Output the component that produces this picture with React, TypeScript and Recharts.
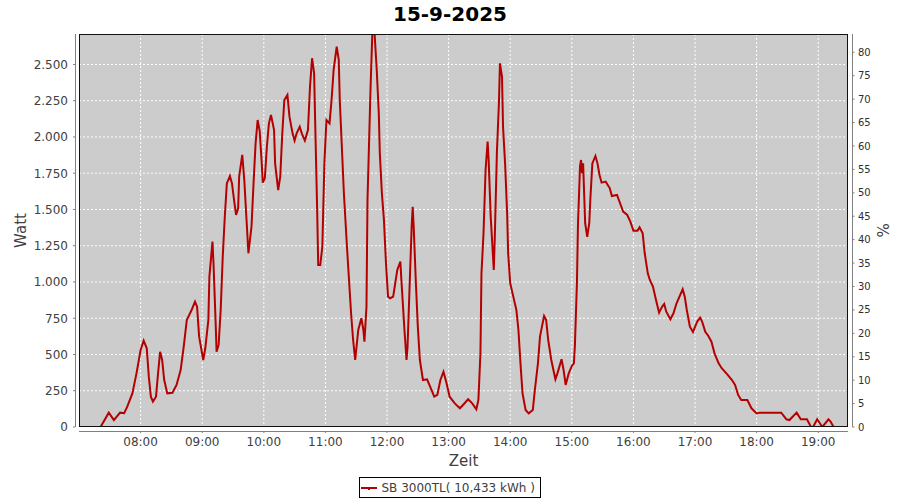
import React from "react";
import { LineChart, Line, XAxis, YAxis, CartesianGrid } from "recharts";

const title = "15-9-2025";
const seriesName = "SB 3000TL( 10,433 kWh )";

// sample times in minutes since midnight, power in watt
const minutes = [
  434, 441, 449, 454, 460, 464, 467, 472, 476, 480, 483, 486, 488, 490, 492, 495, 497, 499, 501, 503,
  506, 511, 515, 519, 522, 525, 530, 533, 535, 537, 541, 543, 546, 547, 550, 551, 553, 554, 556, 558,
  560, 562, 564, 567, 569, 571, 573, 575, 576, 579, 581, 583, 585, 588, 590, 592, 594, 596, 598, 599,
  601, 603, 605, 607, 610, 611, 614, 616, 618, 620, 623, 625, 628, 630, 632, 635, 637, 640, 643, 645,
  647, 649, 650, 652, 653, 655, 657, 659, 661, 664, 666, 668, 671, 673, 674, 676, 678, 681, 683, 685,
  687, 689, 692, 695, 697, 698, 700, 701, 704, 706, 708, 710, 712, 713, 715, 717, 719, 721, 723, 726,
  728, 730, 733, 734, 737, 739, 740, 742, 744, 745, 746, 748, 750, 752, 755, 759, 762, 766, 769, 772,
  775, 778, 781, 786, 791, 794, 799, 803, 807, 809, 811, 812, 814, 816, 818, 819, 821, 824, 825, 827,
  829, 830, 832, 833, 835, 837, 838, 840, 843, 846, 848, 850, 852, 855, 858, 862, 864, 867, 869, 873,
  875, 877, 880, 884, 886, 890, 892, 894, 897, 900, 902, 903, 905, 906, 908, 909, 910, 911, 912, 913,
  915, 917, 918, 920, 923, 925, 927, 929, 933, 937, 939, 944, 947, 950, 954, 957, 960, 964, 966, 969,
  971, 974, 976, 979, 982, 985, 988, 990, 992, 996, 999, 1002, 1008, 1010, 1012, 1015, 1018, 1022, 1025, 1027,
  1030, 1033, 1036, 1039, 1043, 1046, 1051, 1056, 1059, 1062, 1065, 1071, 1075, 1080, 1083, 1104, 1109, 1112, 1119, 1123,
  1129, 1133, 1135, 1139, 1144, 1150, 1152, 1155,
];

const watts = [
  0, 0, 99, 48, 99, 95, 140, 232, 370, 531, 595, 543, 347, 209, 175, 209, 370, 519, 462, 324,
  232, 236, 290, 393, 554, 738, 812, 864, 830, 623, 462, 543, 738, 1037, 1278, 1129, 738, 519, 566, 807,
  1174, 1450, 1680, 1731, 1680, 1566, 1462, 1508, 1726, 1876, 1703, 1450, 1198, 1381, 1680, 1956, 2117, 2040, 1818, 1685,
  1715, 1933, 2094, 2152, 2048, 1818, 1634, 1726, 2025, 2255, 2290, 2140, 2025, 1975, 2025, 2071, 2025, 1975, 2048, 2347,
  2543, 2439, 2117, 1485, 1117, 1117, 1243, 1818, 2117, 2094, 2255, 2462, 2623, 2531, 2255, 1933, 1612, 1243, 1014, 784,
  600, 462, 669, 750, 669, 588, 830, 1566, 2347, 2780, 2700, 2462, 2163, 1887, 1612, 1428, 1129, 899, 888, 899,
  991, 1083, 1140, 1014, 669, 462, 554, 968, 1381, 1519, 1381, 1014, 692, 462, 324, 329, 278, 209, 221, 324,
  381, 301, 209, 163, 129, 152, 191, 163, 122, 186, 508, 1060, 1336, 1772, 1968, 1841, 1450, 1083, 1312, 1887,
  2232, 2508, 2416, 2071, 1818, 1474, 1198, 991, 899, 807, 669, 439, 232, 117, 94, 117, 255, 439, 623, 766,
  738, 600, 462, 329, 370, 467, 393, 290, 370, 421, 439, 560, 1000, 1400, 1800, 1841, 1750, 1818, 1612, 1405,
  1312, 1405, 1566, 1818, 1869, 1818, 1738, 1685, 1692, 1646, 1593, 1600, 1543, 1485, 1462, 1416, 1354, 1354, 1377, 1336,
  1198, 1060, 1014, 968, 876, 788, 830, 848, 795, 743, 784, 853, 950, 899, 807, 692, 655, 725, 754, 725,
  657, 628, 588, 508, 439, 405, 366, 324, 290, 221, 186, 186, 129, 94, 99, 99, 53, 48, 99, 53,
  53, 0, 0, 53, 0, 53, 38, 0,
];

const hourTicks = [480, 540, 600, 660, 720, 780, 840, 900, 960, 1020, 1080, 1140];
const wattTicks = [0, 250, 500, 750, 1000, 1250, 1500, 1750, 2000, 2250, 2500];
const percentTicks = [0, 5, 10, 15, 20, 25, 30, 35, 40, 45, 50, 55, 60, 65, 70, 75, 80];

const data = minutes.map((t, i) => ({ t, w: watts[i] }));

const FONT = "'DejaVu Sans', sans-serif";
const RED = "#b40000";
const AXIS = "#808080";
const LABEL = "#404040";
const plot = { left: 79, top: 34, right: 848, bottom: 427 };

const pad2 = (n: number) => String(n).padStart(2, "0");
const fmtHour = (m: number) => `${pad2(Math.floor(m / 60))}:${pad2(m % 60)}`;
const fmtWatt = (v: number) =>
  v >= 1000 ? `${Math.floor(v / 1000)}.${String(v % 1000).padStart(3, "0")}` : String(v);

const LeftTick = ({ x, y, payload }: any) => (
  <g>
    <line x1={x - 6} x2={x - 4} y1={y} y2={y} stroke={AXIS} />
    <text x={x - 11} y={y + 4.4} textAnchor="end" fontSize={12} fill={LABEL} fontFamily={FONT}>
      {fmtWatt(payload.value)}
    </text>
  </g>
);

const RightTick = ({ x, y, payload }: any) => (
  <g>
    <line x1={x + 4.5} x2={x + 6.5} y1={y} y2={y} stroke={AXIS} />
    <text x={x + 10} y={y + 3.6} textAnchor="start" fontSize={10} fill="#303030" fontFamily={FONT}>
      {payload.value}
    </text>
  </g>
);

const BottomTick = ({ x, y, payload }: any) => (
  <g>
    <line x1={x} x2={x} y1={y + 4} y2={y + 6} stroke={AXIS} />
    <text x={x} y={y + 19} textAnchor="middle" fontSize={12} fill={LABEL} fontFamily={FONT}>
      {fmtHour(payload.value)}
    </text>
  </g>
);

export default function App() {
  const midY = (plot.top + plot.bottom) / 2;
  const midX = (plot.left + plot.right) / 2;
  return (
    <div style={{ position: "relative", width: 900, height: 500, background: "#fff" }}>
      <style>{"body{margin:0}"}</style>
      <LineChart width={900} height={500} data={data} margin={{ top: plot.top, right: 0, bottom: 0, left: 0 }}>
        <CartesianGrid
          xAxisId="x"
          yAxisId="w"
          stroke="#ffffff"
          strokeDasharray="2 2"
          fill="#cccccc"
          fillOpacity={1}
        />
        <XAxis
          xAxisId="x"
          dataKey="t"
          type="number"
          domain={[420, 1169]}
          ticks={hourTicks}
          height={500 - plot.bottom}
          axisLine={false}
          tickLine={false}
          tickSize={0}
          tickMargin={0}
          tick={BottomTick}
          allowDataOverflow
        />
        <YAxis
          yAxisId="w"
          orientation="left"
          domain={[0, 2710]}
          ticks={wattTicks}
          width={plot.left}
          axisLine={false}
          tickLine={false}
          tickSize={0}
          tickMargin={0}
          tick={LeftTick}
          allowDataOverflow
        />
        <YAxis
          yAxisId="p"
          orientation="right"
          domain={[0, 83.9]}
          ticks={percentTicks}
          width={900 - plot.right}
          axisLine={false}
          tickLine={false}
          tickSize={0}
          tickMargin={0}
          tick={RightTick}
          allowDataOverflow
        />
        <Line
          xAxisId="x"
          yAxisId="w"
          dataKey="w"
          name={seriesName}
          type="linear"
          stroke={RED}
          strokeWidth={2}
          dot={false}
          isAnimationActive={false}
        />
      </LineChart>
      <svg
        width={900}
        height={500}
        style={{ position: "absolute", left: 0, top: 0, pointerEvents: "none" }}
      >
        <text x={450} y={20.5} textAnchor="middle" fontSize={20} fontWeight="bold" fill="#000" fontFamily={FONT}>
          {title}
        </text>
        <rect
          x={plot.left + 0.5}
          y={plot.top + 0.5}
          width={plot.right - plot.left - 1}
          height={plot.bottom - plot.top - 1}
          fill="none"
          stroke="#111"
        />
        <line x1={75.5} x2={75.5} y1={plot.top} y2={plot.bottom} stroke={AXIS} />
        <line x1={852.5} x2={852.5} y1={plot.top} y2={plot.bottom} stroke={AXIS} />
        <line x1={plot.left} x2={plot.right} y1={431.5} y2={431.5} stroke={AXIS} />
        <text
          x={26}
          y={midY}
          transform={`rotate(-90, 26, ${midY})`}
          textAnchor="middle"
          fontSize={15}
          fill={LABEL}
          fontFamily={FONT}
        >
          Watt
        </text>
        <text
          x={877}
          y={midY}
          transform={`rotate(90, 877, ${midY})`}
          textAnchor="middle"
          fontSize={15}
          fill={LABEL}
          fontFamily={FONT}
        >
          %
        </text>
        <text x={midX} y={465.5} textAnchor="middle" fontSize={15} fill={LABEL} fontFamily={FONT}>
          Zeit
        </text>
        <rect x={359.5} y={477.5} width={181} height={20} fill="#fff" stroke="#000" />
        <line x1={361} x2={377} y1={488} y2={488} stroke={RED} strokeWidth={2} />
        <rect x={368} y={488} width={2} height={2} fill={RED} />
        <text x={381.5} y={492} fontSize={12} fill={LABEL} fontFamily={FONT}>
          {seriesName}
        </text>
      </svg>
    </div>
  );
}
